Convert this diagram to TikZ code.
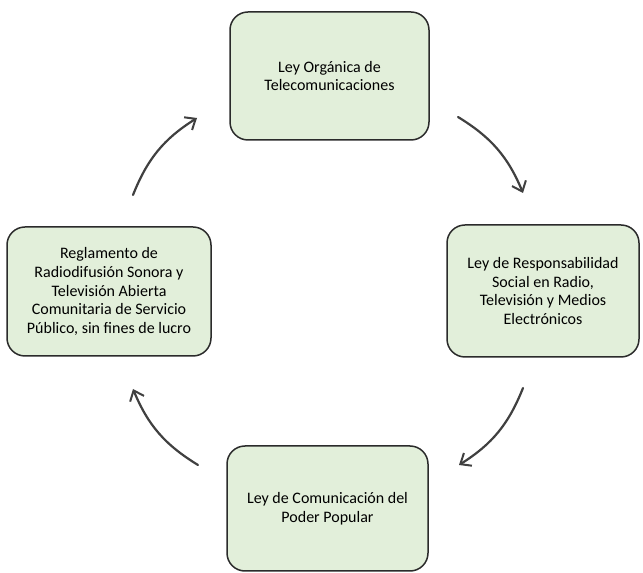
\documentclass[tikz,border=0pt]{standalone}
\usepackage{fontspec}
\setmainfont{Carlito}
\usetikzlibrary{arrows.meta}
\definecolor{leyfill}{HTML}{E2EFDA}
\definecolor{leyline}{HTML}{2B2B2B}

\begin{document}
\begin{tikzpicture}[x=1pt,y=1pt,
    leybox/.style={draw=leyline, line width=1.5pt, fill=leyfill, rounded corners=18pt,
        align=center, font=\fontsize{16}{18.6}\selectfont, inner sep=0pt},
    ciclo/.style={draw=leyline!90, line width=2.2pt, line cap=round,
        -{Straight Barb[length=9pt,width=15pt,line width=2pt]}}]
    \useasboundingbox (0,0) rectangle (643,573);

    % Cajas
    \node[leybox, minimum width=199pt, minimum height=128pt] (organica) at (329.5,497)
        {Ley Orgánica de\\Telecomunicaciones};
    \node[leybox, minimum width=192pt, minimum height=132pt] (resorte) at (543,282)
        {Ley de Responsabilidad\\Social en Radio,\\Televisión y Medios\\Electrónicos};
    \node[leybox, minimum width=201pt, minimum height=125pt] (popular) at (327.5,64.5)
        {Ley de Comunicación del\\Poder Popular};
    \node[leybox, minimum width=204pt, minimum height=129pt] (reglamento) at (109,281.5)
        {Reglamento de\\Radiodifusión Sonora y\\Televisión Abierta\\Comunitaria de Servicio\\Público, sin fines de lucro};

    % Extremos de las flechas
    \coordinate (a1) at (133,378);
    \coordinate (b1) at (197,455);
    \coordinate (a2) at (458,456);
    \coordinate (b2) at (523,380);
    \coordinate (a3) at (523,185);
    \coordinate (b3) at (459,108);
    \coordinate (a4) at (198,108);
    \coordinate (b4) at (133,184);

    % Flechas del ciclo
    \draw[ciclo] (a1) to[bend left=18] (b1);
    \draw[ciclo] (a2) to[bend left=18] (b2);
    \draw[ciclo] (a3) to[bend left=18] (b3);
    \draw[ciclo] (a4) to[bend left=18] (b4);
\end{tikzpicture}
\end{document}
